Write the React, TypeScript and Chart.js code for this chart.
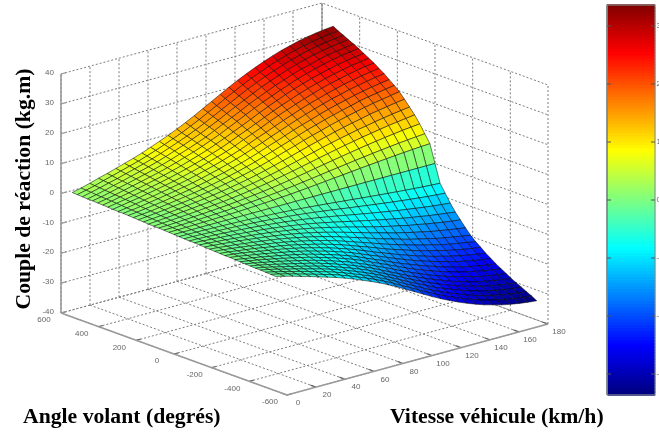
import React, { useEffect, useRef } from "react";
import { Chart, registerables } from "chart.js";

Chart.register(...registerables);

// Axis ticks
const zTicks = [40, 30, 20, 10, 0, -10, -20, -30, -40];
const angleTicks = [600, 400, 200, 0, -200, -400, -600];
const speedTicks = [0, 20, 40, 60, 80, 100, 120, 140, 160, 180];
const colorbarTicks = [30, 20, 10, 0, -10, -20, -30];

// Measured mesh: speed rows and the positive half of the steering angles
const speeds = [0, 6, 12, 18, 24, 30, 36, 42, 48, 54, 60, 66, 72, 78, 84, 90, 96, 102, 108, 114, 120, 126, 132, 138, 144, 150, 156, 162, 168, 174, 180];
const anglesHalf = [0, 27, 54, 81, 108, 135, 162, 189, 216, 243, 270, 297, 324, 351, 378, 405, 432, 459, 486, 513, 540];

// Reaction torque (kg.m) for angle >= 0; the surface is antisymmetric in the angle
const torqueHalf = [
  [0, 0.1, 0.2, 0.3, 0.3, 0.4, 0.5, 0.6, 0.7, 0.8, 0.9, 0.9, 1.0, 1.1, 1.2, 1.3, 1.4, 1.4, 1.5, 1.6, 1.7],
  [0, 0.13, 0.25, 0.38, 0.5, 0.62, 0.74, 0.86, 0.98, 1.1, 1.2, 1.3, 1.5, 1.6, 1.7, 1.8, 1.9, 2.0, 2.2, 2.3, 2.4],
  [0, 0.19, 0.35, 0.52, 0.68, 0.85, 1.0, 1.2, 1.3, 1.5, 1.6, 1.8, 2.0, 2.1, 2.3, 2.4, 2.6, 2.7, 2.9, 3.0, 3.2],
  [0, 0.26, 0.48, 0.69, 0.91, 1.1, 1.3, 1.5, 1.7, 1.9, 2.1, 2.3, 2.5, 2.7, 2.9, 3.1, 3.3, 3.5, 3.7, 3.9, 4.1],
  [0, 0.33, 0.6, 0.86, 1.1, 1.4, 1.6, 1.9, 2.1, 2.3, 2.6, 2.8, 3.1, 3.3, 3.5, 3.8, 4.0, 4.2, 4.4, 4.7, 4.9],
  [0, 0.41, 0.73, 1.05, 1.36, 1.66, 1.96, 2.26, 2.54, 2.82, 3.1, 3.38, 3.65, 3.92, 4.2, 4.47, 4.73, 5.0, 5.26, 5.53, 5.8],
  [0, 0.51, 0.88, 1.26, 1.62, 1.97, 2.32, 2.66, 2.99, 3.31, 3.63, 3.95, 4.26, 4.57, 4.88, 5.19, 5.49, 5.79, 6.09, 6.39, 6.7],
  [0, 0.61, 1.05, 1.48, 1.89, 2.29, 2.69, 3.08, 3.45, 3.81, 4.17, 4.53, 4.88, 5.23, 5.57, 5.91, 6.25, 6.59, 6.92, 7.25, 7.6],
  [0, 0.73, 1.23, 1.72, 2.2, 2.65, 3.11, 3.55, 3.97, 4.37, 4.78, 5.18, 5.57, 5.96, 6.34, 6.73, 7.1, 7.47, 7.84, 8.22, 8.6],
  [0, 0.86, 1.44, 2.01, 2.55, 3.07, 3.58, 4.08, 4.55, 5.01, 5.46, 5.9, 6.34, 6.77, 7.2, 7.62, 8.04, 8.45, 8.86, 9.27, 9.7],
  [0, 1.02, 1.67, 2.33, 2.94, 3.53, 4.1, 4.67, 5.19, 5.71, 6.21, 6.7, 7.19, 7.67, 8.14, 8.61, 9.06, 9.52, 9.97, 10.4, 10.9],
  [0, 1.18, 1.92, 2.66, 3.35, 4.0, 4.65, 5.28, 5.86, 6.42, 6.98, 7.52, 8.06, 8.57, 9.09, 9.61, 10.1, 10.6, 11.1, 11.6, 12.1],
  [0, 1.37, 2.2, 3.03, 3.81, 4.53, 5.25, 5.95, 6.59, 7.21, 7.83, 8.42, 9.0, 9.57, 10.1, 10.7, 11.2, 11.8, 12.3, 12.8, 13.4],
  [0, 1.58, 2.51, 3.44, 4.31, 5.11, 5.91, 6.69, 7.39, 8.07, 8.75, 9.39, 10.0, 10.6, 11.3, 11.9, 12.4, 13.0, 13.6, 14.2, 14.8],
  [0, 1.8, 2.84, 3.89, 4.86, 5.75, 6.64, 7.49, 8.27, 9.01, 9.75, 10.4, 11.1, 11.8, 12.5, 13.1, 13.8, 14.4, 15.0, 15.6, 16.3],
  [0, 2.06, 3.22, 4.39, 5.46, 6.44, 7.43, 8.37, 9.22, 10.0, 10.8, 11.6, 12.4, 13.1, 13.8, 14.5, 15.2, 15.8, 16.5, 17.2, 17.9],
  [0, 2.33, 3.62, 4.9, 6.08, 7.17, 8.24, 9.27, 10.2, 11.1, 11.9, 12.8, 13.6, 14.3, 15.1, 15.9, 16.6, 17.3, 18.0, 18.7, 19.5],
  [0, 2.61, 4.02, 5.43, 6.73, 7.9, 9.08, 10.2, 11.2, 12.1, 13.1, 13.9, 14.8, 15.6, 16.4, 17.3, 18.0, 18.8, 19.5, 20.3, 21.1],
  [0, 2.91, 4.45, 5.99, 7.4, 8.67, 9.94, 11.1, 12.2, 13.2, 14.2, 15.1, 16.1, 16.9, 17.8, 18.7, 19.5, 20.2, 21.0, 21.8, 22.7],
  [0, 3.21, 4.88, 6.55, 8.06, 9.43, 10.8, 12.1, 13.2, 14.3, 15.3, 16.3, 17.3, 18.2, 19.1, 20.0, 20.8, 21.6, 22.5, 23.3, 24.2],
  [0, 3.49, 5.29, 7.08, 8.7, 10.2, 11.6, 13.0, 14.2, 15.3, 16.4, 17.4, 18.4, 19.4, 20.3, 21.2, 22.1, 23.0, 23.8, 24.7, 25.6],
  [0, 3.79, 5.7, 7.61, 9.33, 10.9, 12.4, 13.8, 15.1, 16.2, 17.4, 18.5, 19.5, 20.5, 21.5, 22.4, 23.3, 24.2, 25.1, 25.9, 26.9],
  [0, 4.09, 6.11, 8.13, 9.95, 11.6, 13.2, 14.7, 16.0, 17.2, 18.4, 19.5, 20.6, 21.6, 22.6, 23.5, 24.4, 25.3, 26.2, 27.1, 28.1],
  [0, 4.37, 6.5, 8.63, 10.5, 12.2, 13.9, 15.5, 16.8, 18.1, 19.3, 20.4, 21.5, 22.6, 23.6, 24.6, 25.5, 26.4, 27.3, 28.2, 29.2],
  [0, 4.65, 6.89, 9.12, 11.1, 12.9, 14.6, 16.2, 17.6, 18.9, 20.2, 21.3, 22.5, 23.5, 24.5, 25.5, 26.5, 27.4, 28.3, 29.2, 30.2],
  [0, 4.91, 7.24, 9.56, 11.6, 13.4, 15.2, 16.9, 18.3, 19.6, 20.9, 22.1, 23.3, 24.3, 25.3, 26.4, 27.2, 28.2, 29.1, 30.0, 31.0],
  [0, 5.17, 7.58, 10.0, 12.1, 14.0, 15.9, 17.6, 19.1, 20.4, 21.7, 22.9, 24.0, 25.1, 26.1, 27.2, 28.1, 29.0, 29.9, 30.8, 31.8],
  [0, 5.41, 7.91, 10.4, 12.6, 14.5, 16.4, 18.2, 19.7, 21.0, 22.3, 23.5, 24.7, 25.7, 26.8, 27.8, 28.7, 29.6, 30.5, 31.4, 32.4],
  [0, 5.64, 8.21, 10.8, 13.0, 15.0, 16.9, 18.7, 20.2, 21.6, 22.9, 24.1, 25.3, 26.3, 27.3, 28.4, 29.2, 30.1, 31.0, 31.9, 32.9],
  [0, 5.84, 8.47, 11.1, 13.4, 15.4, 17.4, 19.2, 20.7, 22.1, 23.4, 24.6, 25.8, 26.8, 27.8, 28.8, 29.7, 30.6, 31.4, 32.3, 33.3],
  [0, 6.0, 8.7, 11.4, 13.8, 15.8, 17.8, 19.7, 21.2, 22.5, 23.9, 25.0, 26.2, 27.2, 28.2, 29.2, 30.1, 30.9, 31.8, 32.6, 33.6],
];

const angles = [...anglesHalf.slice(1).reverse().map((a) => -a), ...anglesHalf];
const torque = torqueHalf.map((row) => [...row.slice(1).reverse().map((v) => -v), ...row]);

const Z_RANGE = 33.6;

// Orthographic view of the 3D box onto the chart's x/y value space (one unit = one pixel)
function project(a: number, s: number, z: number) {
  return {
    x: 61 + ((600 - a) / 1200) * 226 + (s / 180) * 261,
    y: 313 + ((600 - a) / 1200) * 82 - (s / 180) * 71 - ((z + 40) / 80) * 239,
  };
}

function jetRaw(v: number) {
  const ch = (c: number) => Math.round(255 * Math.min(1, Math.max(0, 1.5 - Math.abs(4 * v - c))));
  return `rgb(${ch(3)},${ch(2)},${ch(1)})`;
}

function jet(z: number) {
  const raw = (z + Z_RANGE) / (2 * Z_RANGE);
  const idx = Math.min(63, Math.max(0, Math.floor(raw * 64)));
  return jetRaw((idx + 0.5) / 64);
}

function polyline(points: { x: number; y: number }[], color: string, width: number, dash: number[] = []) {
  return {
    type: "scatter",
    data: points,
    showLine: true,
    pointRadius: 0,
    borderColor: color,
    borderWidth: width,
    borderDash: dash,
    tension: 0,
    fill: false,
  };
}

function polygon(points: { x: number; y: number }[], fillColor: string, edge: string, width: number) {
  return {
    ...polyline([...points, points[0]], edge, width),
    backgroundColor: fillColor,
    fill: "shape",
  };
}

function buildDatasets() {
  const front: any[] = [];
  // front cells first: Chart.js paints index 0 last
  for (let i = 0; i < angles.length - 1; i++) {
    for (let j = 0; j < speeds.length - 1; j++) {
      front.push(
        polygon(
          [
            project(angles[i], speeds[j], torque[j][i]),
            project(angles[i + 1], speeds[j], torque[j][i + 1]),
            project(angles[i + 1], speeds[j + 1], torque[j + 1][i + 1]),
            project(angles[i], speeds[j + 1], torque[j + 1][i]),
          ],
          jet(torque[j][i]),
          "rgba(0,0,0,0.5)",
          1,
        ),
      );
    }
  }

  const axisColor = "#9a9a9a";
  const axes: any[] = [
    polyline([project(600, 0, -40), project(600, 0, 40)], axisColor, 1.6),
    polyline([project(600, 0, -40), project(-600, 0, -40)], axisColor, 1.6),
    polyline([project(-600, 0, -40), project(-600, 180, -40)], axisColor, 1.6),
    polyline([project(600, 180, 8), project(600, 180, 40)], axisColor, 1.4),
  ];
  zTicks.forEach((z) => axes.push(polyline([project(600, 0, z), project(600, 4, z)], axisColor, 1.2)));
  angleTicks.forEach((a) => axes.push(polyline([project(a, 0, -40), project(a, 3, -40)], "#666", 1.2)));
  speedTicks.forEach((s) => axes.push(polyline([project(-600, s, -40), project(-570, s, -40)], "#666", 1.2)));

  const gridColor = "#7c7c7c";
  const dash = [2, 2];
  const grid: any[] = [];
  speedTicks.forEach((s) => {
    grid.push(polyline([project(600, s, -40), project(600, s, 40)], gridColor, 1, dash));
    grid.push(polyline([project(600, s, -40), project(-600, s, -40)], gridColor, 1, dash));
  });
  angleTicks.forEach((a) => {
    grid.push(polyline([project(a, 180, -40), project(a, 180, 40)], gridColor, 1, dash));
    grid.push(polyline([project(a, 0, -40), project(a, 180, -40)], gridColor, 1, dash));
  });
  zTicks.forEach((z) => {
    grid.push(polyline([project(600, 0, z), project(600, 180, z), project(-600, 180, z)], gridColor, 1, dash));
  });

  // Colorbar: x from 607 to 655, a smooth ramp between the torque limits
  const barY = (z: number) => 200 - z * 5.8;
  const bar: any[] = [];
  const levels = 130;
  for (let k = 0; k < levels; k++) {
    const lo = -Z_RANGE + (k / levels) * 2 * Z_RANGE;
    const hi = -Z_RANGE + ((k + 1) / levels) * 2 * Z_RANGE;
    const c = jetRaw((k + 0.5) / levels);
    bar.push(
      polygon(
        [
          { x: 607.5, y: barY(lo) },
          { x: 654.5, y: barY(lo) },
          { x: 654.5, y: barY(hi) },
          { x: 607.5, y: barY(hi) },
        ],
        c,
        c,
        1.5,
      ),
    );
  }
  const barFrame = polyline(
    [
      { x: 607, y: barY(-Z_RANGE) },
      { x: 655, y: barY(-Z_RANGE) },
      { x: 655, y: barY(Z_RANGE) },
      { x: 607, y: barY(Z_RANGE) },
      { x: 607, y: barY(-Z_RANGE) },
    ],
    "#7d8a8a",
    1,
  );
  const barTicks: any[] = [];
  colorbarTicks.forEach((t) => {
    barTicks.push(polyline([{ x: 607, y: barY(t) }, { x: 611, y: barY(t) }], "#555", 1));
    barTicks.push(polyline([{ x: 651, y: barY(t) }, { x: 655, y: barY(t) }], "#555", 1));
  });

  return [...barTicks, barFrame, ...bar, ...front, ...axes, ...grid];
}

const labelsPlugin = {
  id: "labels3d",
  afterDraw(chart: any) {
    const { ctx, scales } = chart;
    const px = (p: { x: number; y: number }) => ({ x: scales.x.getPixelForValue(p.x), y: scales.y.getPixelForValue(p.y) });
    ctx.save();
    ctx.fillStyle = "#666";
    ctx.font = "8px 'Liberation Sans'";
    ctx.textAlign = "center";
    ctx.textBaseline = "middle";
    zTicks.forEach((z) => {
      const p = px(project(600, 0, z));
      ctx.textAlign = "right";
      ctx.fillText(String(z), p.x - 7, p.y - 1);
    });
    ctx.textAlign = "center";
    angleTicks.forEach((a) => {
      const p = px(project(a, 0, -40));
      ctx.fillText(String(a), p.x - 17, p.y + 7);
    });
    speedTicks.forEach((s) => {
      const p = px(project(-600, s, -40));
      ctx.fillText(String(s), p.x + 11, p.y + 8);
    });
    ctx.textAlign = "left";
    colorbarTicks.forEach((t) => {
      const p = px({ x: 655, y: 200 - t * 5.8 });
      ctx.fillText(String(t), p.x + 1.5, p.y);
    });

    ctx.fillStyle = "#000";
    ctx.font = "bold 21.7px 'Liberation Serif'";
    ctx.textAlign = "left";
    ctx.textBaseline = "alphabetic";
    ctx.fillText("Angle volant (degrés)", 23, 423);
    ctx.fillText("Vitesse véhicule (km/h)", 390, 423);
    ctx.save();
    ctx.translate(30, 189);
    ctx.rotate(-Math.PI / 2);
    ctx.textAlign = "center";
    ctx.fillText("Couple de réaction (kg.m)", 0, 0);
    ctx.restore();
    ctx.restore();
  },
};

export default function App() {
  const ref = useRef<HTMLCanvasElement>(null);
  useEffect(() => {
    const chart = new Chart(ref.current as HTMLCanvasElement, {
      type: "scatter",
      data: { datasets: buildDatasets() as any },
      options: {
        animation: false,
        responsive: false,
        events: [],
        layout: { padding: 0 },
        plugins: { legend: { display: false }, tooltip: { enabled: false }, title: { display: false } },
        scales: {
          x: { type: "linear", min: 0, max: 659, display: false },
          y: { type: "linear", min: 0, max: 434, reverse: true, display: false },
        },
      } as any,
      plugins: [labelsPlugin],
    });
    return () => chart.destroy();
  }, []);
  return (
    <canvas
      ref={ref}
      width={659}
      height={434}
      style={{ position: "fixed", left: 0, top: 0, width: 659, height: 434, filter: "blur(0.75px)" }}
    />
  );
}
